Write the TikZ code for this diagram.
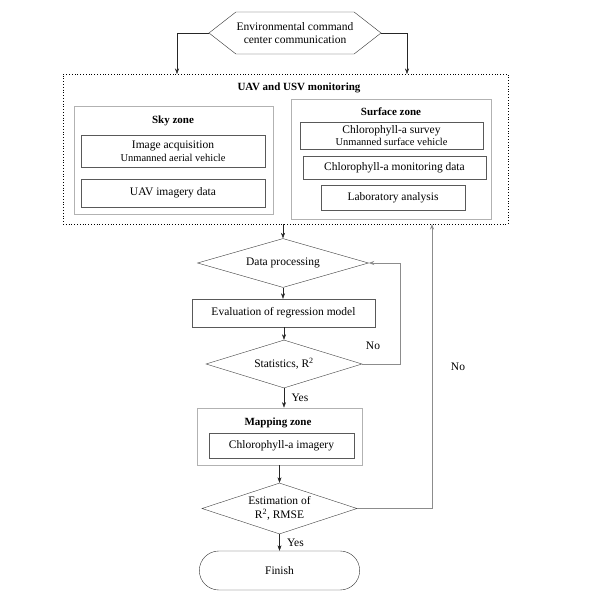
\documentclass[tikz,border=0pt]{standalone}
\usepackage{fontspec}
\setmainfont{Liberation Serif}
\usetikzlibrary{shapes.geometric,shapes.symbols,shapes.misc,arrows.meta}
\tikzset{
	zonebox/.style={draw=black!30,thick},
	stepbox/.style={draw=black!65,align=center,inner sep=1pt},
	decide/.style={diamond,draw=black!75,inner sep=0pt,align=center},
	flow/.style={draw=black!85,-{Stealth[length=5.5pt,width=4pt]}},
	back/.style={draw=black!45,thick},
	ttl/.style={font=\fontsize{11}{13}\selectfont\bfseries}
}
\begin{document}
\begin{tikzpicture}[x=1pt,y=-1pt,font=\fontsize{11.5}{13.5}\selectfont]
			\useasboundingbox[fill=white] (0,0) rectangle (601,601);
			
			\node[signal,signal to=west and east,signal pointer angle=76,draw=black!80,minimum width=172,minimum height=42,align=center,inner sep=0pt] (comm) at (295,33) {Environmental command\\center communication};
			
			\node[draw,dotted,thick,minimum width=445,minimum height=150,inner sep=0pt] (mon) at (285.5,149) {};
			\node[ttl] (montitle) at (299,88) {UAV and USV monitoring};
			
			\node[zonebox,minimum width=199,minimum height=108,inner sep=0pt] (sky) at (173.5,160) {};
			\node[ttl] (skytitle) at (173,121) {Sky zone};
			\node[stepbox,minimum width=184,minimum height=32] (imgacq) at (173,151) {Image acquisition\\[-1pt]{\fontsize{10.5}{12}\selectfont Unmanned aerial vehicle}};
			\node[stepbox,minimum width=184,minimum height=28] (uavdata) at (173,193) {UAV imagery data};
			
			\node[zonebox,minimum width=200,minimum height=120,inner sep=0pt] (surface) at (391,159) {};
			\node[ttl] (surftitle) at (391,112) {Surface zone};
			\node[stepbox,minimum width=183,minimum height=27,inner sep=0pt] (survey) at (391.5,135.5) {Chlorophyll-a survey\\[-2pt]{\fontsize{10.5}{12}\selectfont Unmanned surface vehicle}};
			\node[stepbox,minimum width=183,minimum height=23] (mondata) at (394.5,167.5) {Chlorophyll-a monitoring data};
			\node[stepbox,minimum width=144,minimum height=25] (lab) at (393,197.5) {Laboratory analysis};
			
			\node[decide,aspect=3.49,minimum width=171,minimum height=49] (dataproc) at (283,263) {Data processing};
			\node[stepbox,minimum width=183,minimum height=28] (evalm) at (283.5,313) {Evaluation of regression model};
			\node[decide,aspect=3.25,minimum width=156,minimum height=48] (stats) at (284,364) {Statistics, R\textsuperscript{2}};
			
			\node[zonebox,minimum width=165,minimum height=57,inner sep=0pt] (mapzone) at (279.5,436.5) {};
			\node[ttl] (maptitle) at (278,423) {Mapping zone};
			\node[stepbox,minimum width=145,minimum height=25] (chlimg) at (281.5,445.5) {Chlorophyll-a imagery};
			
			\node[decide,aspect=3.04,minimum width=155,minimum height=51] (estim) at (279.5,508.5) {Estimation of\\R\textsuperscript{2}, RMSE};
			\node[rounded rectangle,draw=black!80,minimum width=167,minimum height=39] (finish) at (279.5,570.5) {Finish};
			
			\coordinate (skyin) at (177,74);
			\coordinate (surfin) at (407,74);
			\coordinate (loopa) at (400,364);
			\coordinate (loopb) at (432,224);
			
			\draw[flow] (comm.west) -| (skyin);
			\draw[flow] (comm.east) -| (surfin);
			\draw[flow] (dataproc.north |- mon.south) -- (dataproc.north);
			\draw[flow] (dataproc.south) -- (dataproc.south |- evalm.north);
			\draw[flow] (evalm.south -| stats.north) -- (stats.north);
			\draw[flow] (stats.south) -- (stats.south |- mapzone.north) node[midway,right=4pt] (yesa) {Yes};
			\draw[flow] (mapzone.south) -- (estim.north);
			\draw[flow] (estim.south) -- (finish.north) node[midway,right=4pt] (yesb) {Yes};
			
			\draw[back,-{Stealth[length=5.5pt,width=4pt]}] (stats.east) -- (loopa) |- (dataproc.east);
			\draw[back,-{Stealth[length=5.5pt,width=4pt]}] (estim.east) -| (loopb);
			
			\node (noa) at (373,346) {No};
			\node (nob) at (458,367) {No};
			\end{tikzpicture}
\end{document}
